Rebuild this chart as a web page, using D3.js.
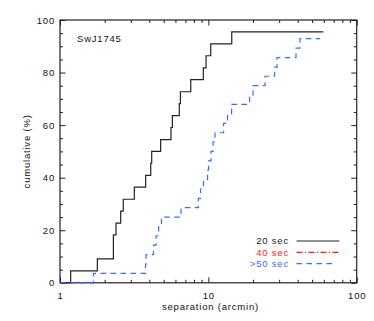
<!DOCTYPE html>
<html><head><meta charset="utf-8">
<script src="https://cdn.jsdelivr.net/npm/d3@7"></script>
<style>
html,body{margin:0;padding:0;background:#fff;}
text{font-family:"Liberation Sans",Arial,Helvetica,sans-serif;letter-spacing:0.8px;}
</style></head>
<body>
<svg id="c" width="374" height="321"></svg>
<script>
// ---- data ----
const xTickValues = [1, 10, 100];
const xTickLabels = ["1", "10", "100"];
const yTickValues = [0, 20, 40, 60, 80, 100];
const yTickLabels = ["0", "20", "40", "60", "80", "100"];
const sep20 = [1, 1.18, 1.785, 2.29, 2.386, 2.565, 2.67, 3.17, 3.78, 4.09, 4.15, 4.77, 5.6, 5.72, 6.37, 6.48, 7.61, 9.25, 9.65, 10.38, 14.38, 59.6];
const cum20 = [0, 4.5, 9.1, 18.2, 22.7, 27.3, 31.8, 36.4, 40.9, 45.5, 50.0, 54.5, 59.1, 63.6, 68.2, 72.7, 77.3, 81.8, 86.4, 90.9, 95.5, 95.5];
const sep40 = [];
const cum40 = [];
const sep50 = [1, 1.68, 3.77, 3.80, 4.27, 4.44, 4.62, 4.83, 6.55, 8.56, 8.86, 9.28, 9.88, 10.03, 10.43, 10.76, 11.09, 12.66, 13.48, 14.34, 18.96, 20.0, 24.1, 27.95, 29.05, 39.0, 41.5, 56.6];
const cum50 = [0, 3.6, 7.1, 10.7, 14.3, 17.9, 21.4, 25.0, 28.6, 32.1, 35.7, 39.3, 42.9, 46.4, 50.0, 53.6, 57.1, 60.7, 64.3, 67.9, 71.4, 75.0, 78.6, 82.1, 85.7, 89.3, 92.9, 92.9];
const legendLabels = ["20 sec", "40 sec", ">50 sec"];
const legendColors = ["#222", "#ff1a1a", "#3d6bff"];
const legendDash = [null, "6,2.5,1,2.5", "5.5,4.5"];
const label = "SwJ1745";

(function () {
// ---- layout ----
const L = 60, R = 356.7, T = 20, B = 282.8;
const svg = d3.select("#c");
const x = d3.scaleLog().domain([1, 100]).range([L, R]);
const y = d3.scaleLinear().domain([0, 100]).range([B, T]);
const axisColor = "#222";
const fs = 9.5;

// minor ticks
const xMinor = [];
[1, 10].forEach(d => { for (let k = 2; k <= 9; k++) xMinor.push(d * k); });
const yMinor = d3.range(0, 101, 5).filter(v => v % 20 !== 0);

const g = svg.append("g");
g.append("g").attr("transform", `translate(0,${B})`)
  .call(d3.axisBottom(x).tickValues(xTickValues).tickFormat((d, i) => xTickLabels[i]).tickSizeInner(-5.5).tickSizeOuter(0).tickPadding(9));
g.append("g").attr("transform", `translate(0,${B})`)
  .call(d3.axisBottom(x).tickValues(xMinor).tickFormat("").tickSizeInner(-3).tickSizeOuter(0));
g.append("g").attr("transform", `translate(0,${T})`)
  .call(d3.axisTop(x).tickValues(xTickValues).tickFormat("").tickSizeInner(-5.5).tickSizeOuter(0));
g.append("g").attr("transform", `translate(0,${T})`)
  .call(d3.axisTop(x).tickValues(xMinor).tickFormat("").tickSizeInner(-3).tickSizeOuter(0));
g.append("g").attr("transform", `translate(${L},0)`)
  .call(d3.axisLeft(y).tickValues(yTickValues).tickFormat((d, i) => yTickLabels[i]).tickSizeInner(-5.5).tickSizeOuter(0).tickPadding(5));
g.append("g").attr("transform", `translate(${L},0)`)
  .call(d3.axisLeft(y).tickValues(yMinor).tickFormat("").tickSizeInner(-3).tickSizeOuter(0));
g.append("g").attr("transform", `translate(${R},0)`)
  .call(d3.axisRight(y).tickValues(yTickValues).tickFormat("").tickSizeInner(-5.5).tickSizeOuter(0));
g.append("g").attr("transform", `translate(${R},0)`)
  .call(d3.axisRight(y).tickValues(yMinor).tickFormat("").tickSizeInner(-3).tickSizeOuter(0));

g.selectAll(".domain").remove();
g.selectAll(".tick line").attr("stroke", axisColor).attr("stroke-width", 1);
g.selectAll(".tick text").attr("font-size", fs).attr("fill", "#111")
  .attr("font-family", '"Liberation Sans",Arial,sans-serif');

// frame
svg.append("rect").attr("x", L).attr("y", T).attr("width", R - L).attr("height", B - T)
  .attr("fill", "none").attr("stroke", axisColor).attr("stroke-width", 1.2);

// series
const line = d3.line().x(d => x(d[0])).y(d => y(d[1])).curve(d3.curveStepAfter);
const series = [[sep20, cum20], [sep40, cum40], [sep50, cum50]];
series.forEach((s, i) => {
  if (!s[0].length) return;
  const pts = s[0].map((v, j) => [v, s[1][j]]);
  const p = svg.append("path").attr("d", line(pts)).attr("fill", "none")
    .attr("stroke", legendColors[i]).attr("stroke-width", 1.2);
  if (legendDash[i]) p.attr("stroke-dasharray", legendDash[i]);
});

// titles
svg.append("text").attr("x", 210.5).attr("y", 310).attr("text-anchor", "middle")
  .attr("font-size", fs).attr("fill", "#111").text("separation (arcmin)");
svg.append("text").attr("transform", `translate(29.5,${(T + B) / 2}) rotate(-90)`).attr("text-anchor", "middle")
  .attr("font-size", fs).attr("fill", "#111").text("cumulative (%)");
svg.append("text").attr("x", 77).attr("y", 41.5).attr("font-size", fs).attr("fill", "#111").text(label);

// legend
legendLabels.forEach((t, i) => {
  const yy = 241 + i * 11.3;
  svg.append("text").attr("x", 289).attr("y", yy + 3.4).attr("text-anchor", "end")
    .attr("font-size", fs).attr("fill", legendColors[i]).text(t);
  const ln = svg.append("line").attr("x1", 296.5).attr("x2", i === 0 ? 339.3 : (i === 1 ? 338.5 : 334))
    .attr("y1", yy).attr("y2", yy).attr("stroke", legendColors[i]).attr("stroke-width", 1.2);
  if (legendDash[i]) ln.attr("stroke-dasharray", legendDash[i]);
});
})();
</script>
</body></html>
